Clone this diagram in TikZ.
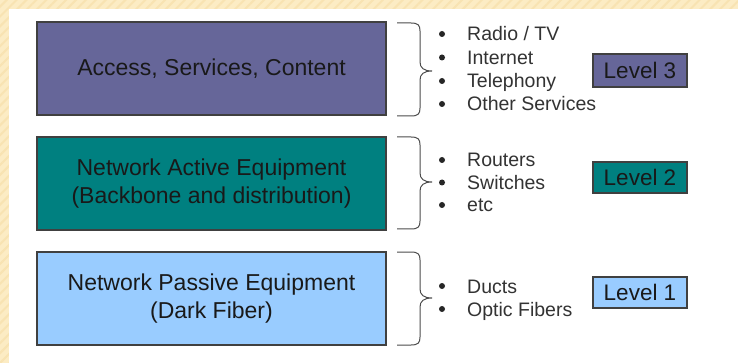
\documentclass[tikz,border=0pt]{standalone}
\usepackage{fontspec}
\setmainfont{Liberation Sans}
\usetikzlibrary{patterns.meta}
\definecolor{layerpurple}{HTML}{666699}
\definecolor{layerteal}{HTML}{008080}
\definecolor{layerblue}{HTML}{99CCFF}
\definecolor{slidebeige}{HTML}{FCECC4}
\definecolor{slidestripe}{HTML}{F8E3B2}
\tikzset{
  layer/.style={draw=black!75, line width=1.1pt, minimum width=349pt, minimum height=93pt,
    align=center, font=\fontsize{23}{28}\selectfont, text=black!90},
  levelbox/.style={draw=black!75, line width=1.1pt, minimum width=94pt, minimum height=31pt,
    inner sep=0pt, font=\fontsize{22.5}{27}\selectfont, text=black!90},
  item/.style={anchor=base west, inner sep=0pt, font=\fontsize{19.5}{23}\selectfont, text=black!80},
  dot/.style={circle, fill=black!85, inner sep=0pt, minimum size=6pt},
  bracket/.style={draw=black!70, line width=1pt},
}
\begin{document}
\begin{tikzpicture}[x=1pt,y=-1pt]
\useasboundingbox (0,0) rectangle (738,363);
% slide background
\fill[slidebeige] (0,0) rectangle (738,363);
\fill[pattern={Lines[angle=45,distance=7pt,line width=2pt]}, pattern color=slidestripe] (0,0) rectangle (738,363);
\fill[white] (8.5,9) rectangle (738,363);

% level 3
\node[layer, fill=layerpurple] (access) at (211.5,68.5) {Access, Services, Content};
\draw[bracket] (397,23) -- (411,23) .. controls (418,23) and (420,25) .. (420,31) -- (420,62)
  .. controls (420,68) and (424,71) .. (432,71) .. controls (424,71) and (420,74) .. (420,80)
  -- (420,108) .. controls (420,114) and (418,116) .. (411,116) -- (397,116);
\node[dot] (d-radio) at (442,34) {};
\node[item] (radio) at (467,41) {Radio / TV};
\node[dot] (d-internet) at (442,57.5) {};
\node[item] (internet) at (467,64.5) {Internet};
\node[dot] (d-phone) at (442,81) {};
\node[item] (phone) at (467,88) {Telephony};
\node[dot] (d-other) at (442,104) {};
\node[item] (other) at (467,111) {Other Services};
\node[levelbox, fill=layerpurple, minimum height=33pt] (level3) at (640,70.5) {Level 3};

% level 2
\node[layer, fill=layerteal] (active) at (211.5,183.5) {Network Active Equipment\\(Backbone and distribution)};
\draw[bracket] (397,137) -- (411,137) .. controls (418,137) and (420,139) .. (420,145) -- (420,173)
  .. controls (420,179) and (424,182) .. (432,182) .. controls (424,182) and (420,185) .. (420,191)
  -- (420,221) .. controls (420,227) and (418,229) .. (411,229) -- (397,229);
\node[dot] (d-routers) at (442,160) {};
\node[item] (routers) at (467,167) {Routers};
\node[dot] (d-switches) at (442,182.5) {};
\node[item] (switches) at (467,189.5) {Switches};
\node[dot] (d-etc) at (442,205) {};
\node[item] (etc) at (467,212) {etc};
\node[levelbox, fill=layerteal] (level2) at (640,177.5) {Level 2};

% level 1
\node[layer, fill=layerblue] (passive) at (211.5,298.5) {Network Passive Equipment\\(Dark Fiber)};
\draw[bracket] (397,252) -- (411,252) .. controls (418,252) and (420,254) .. (420,260) -- (420,289)
  .. controls (420,295) and (424,298) .. (432,298) .. controls (424,298) and (420,301) .. (420,307)
  -- (420,337) .. controls (420,343) and (418,345) .. (411,345) -- (397,345);
\node[dot] (d-ducts) at (442,286) {};
\node[item] (ducts) at (467,293) {Ducts};
\node[dot] (d-fibers) at (442,309) {};
\node[item] (fibers) at (467,316) {Optic Fibers};
\node[levelbox, fill=layerblue] (level1) at (640,292.5) {Level 1};
\end{tikzpicture}
\end{document}
